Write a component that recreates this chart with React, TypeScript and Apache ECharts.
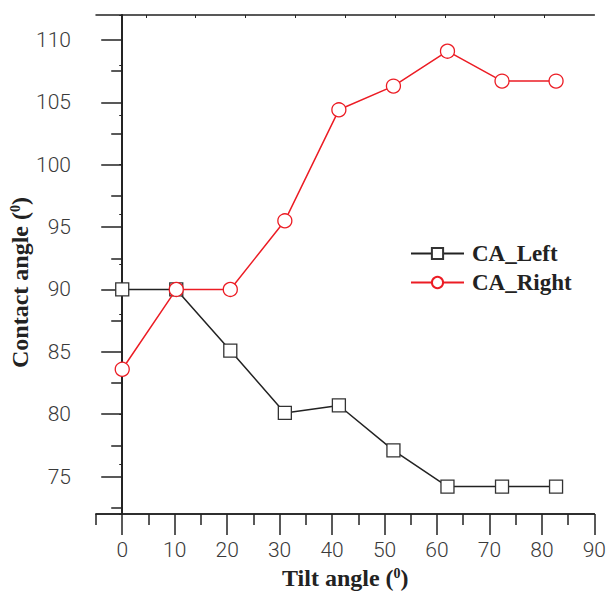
import React, { useEffect, useRef } from "react";
import * as echarts from "echarts";

const tiltAngles = [0, 10.3, 20.6, 31, 41.3, 51.7, 62, 72.4, 82.7];
const caLeft = [90, 90, 85.1, 80.1, 80.7, 77.1, 74.2, 74.2, 74.2];
const caRight = [83.6, 90, 90, 95.5, 104.4, 106.3, 109.1, 106.7, 106.7];

const xMajorTicks = [0, 10, 20, 30, 40, 50, 60, 70, 80, 90];
const xMinorTicks = [-5, 5, 15, 25, 35, 45, 55, 65, 75, 85];
const xTopTicks = [4.5, 14, 23.5, 33, 42.5, 52, 61.5, 71, 80.5];
const yMajorTicks = [75, 80, 85, 90, 95, 100, 105, 110];
const yMinorTicks = [72.5, 77.5, 82.5, 87.5, 92.5, 97.5, 102.5, 107.5];

const AXIS_COLOR = "#222";
const RED = "#ec1c24";
const LABEL_FONT = { fontFamily: "Roboto", fontWeight: 300, fontSize: 21, color: "#3a3a3a" };

export default function App() {
  const ref = useRef<HTMLDivElement>(null);
  useEffect(() => {
    if (!ref.current) return;
    const chart = echarts.init(ref.current, null, { renderer: "svg" });
    const lineStyle = { color: AXIS_COLOR, width: 1.5 };
    const baseX = { type: "value", min: -5, max: 90, splitLine: { show: false } };
    const baseY = { type: "value", min: 72, max: 112, splitLine: { show: false } };
    chart.setOption({
      animation: false,
      backgroundColor: "#fff",
      grid: { left: 96, right: 13, top: 15, bottom: 78, containLabel: false },
      legend: {
        left: 405,
        top: 237,
        orient: "vertical",
        itemWidth: 53,
        itemHeight: 14,
        itemGap: 6,
        data: ["CA_Left", "CA_Right"],
        textStyle: {
          fontFamily: "Liberation Serif",
          fontWeight: "bold",
          fontSize: 23,
          color: "#222",
          padding: [0, 0, 0, 3],
        },
      },
      xAxis: [
        {
          ...baseX,
          position: "bottom",
          axisLine: { show: true, lineStyle },
          axisTick: { show: true, inside: false, length: 21, lineStyle, customValues: xMajorTicks },
          axisLabel: { show: true, margin: 25, customValues: xMajorTicks, ...LABEL_FONT },
        },
        {
          ...baseX,
          position: "bottom",
          axisLine: { show: true, lineStyle },
          axisTick: { show: true, inside: false, length: 11, lineStyle, customValues: xMinorTicks },
          axisLabel: { show: false },
        },
        {
          ...baseX,
          position: "top",
          axisLine: { show: true, lineStyle },
          axisTick: { show: true, inside: true, length: 3, lineStyle: { color: AXIS_COLOR, width: 1 }, customValues: xTopTicks },
          axisLabel: { show: false },
        },
      ],
      yAxis: [
        {
          ...baseY,
          position: "left",
          axisLine: { show: true, lineStyle },
          axisTick: { show: true, inside: false, length: 21, lineStyle, customValues: yMajorTicks },
          axisLabel: { show: true, margin: 25, customValues: yMajorTicks, ...LABEL_FONT },
        },
        {
          ...baseY,
          position: "left",
          axisLine: { show: true, lineStyle },
          axisTick: { show: true, inside: false, length: 11, lineStyle, customValues: yMinorTicks },
          axisLabel: { show: false },
        },
        {
          ...baseY,
          position: "right",
          interval: 4,
          axisLine: { show: true, lineStyle },
          axisTick: { show: true, inside: true, length: 3, lineStyle: { color: AXIS_COLOR, width: 1 } },
          axisLabel: { show: false },
        },
      ],
      series: [
        {
          name: "CA_Left",
          type: "line",
          xAxisIndex: 0,
          yAxisIndex: 0,
          data: tiltAngles.map((x, i) => [x, caLeft[i]]),
          symbol: "rect",
          symbolSize: 13,
          lineStyle: { color: "#222", width: 1.5 },
          itemStyle: { color: "#fff", borderColor: "#333", borderWidth: 1.3 },
          z: 3,
        },
        {
          name: "CA_Right",
          type: "line",
          xAxisIndex: 0,
          yAxisIndex: 0,
          data: tiltAngles.map((x, i) => [x, caRight[i]]),
          symbol: "circle",
          symbolSize: 14,
          lineStyle: { color: RED, width: 1.5 },
          itemStyle: { color: "#fff", borderColor: RED, borderWidth: 1.3 },
          z: 4,
        },
      ],
      graphic: [
        {
          type: "text",
          left: 282,
          top: 566,
          style: {
            text: "Tilt angle ({s|0})",
            fontFamily: "Liberation Serif",
            fontWeight: "bold",
            fontSize: 24,
            fill: "#222",
            rich: {
              s: { fontFamily: "Liberation Serif", fontWeight: "bold", fontSize: 14, fill: "#222", padding: [0, 0, 10, 0] },
            },
          },
        },
        {
          type: "text",
          x: 8,
          y: 368,
          rotation: Math.PI / 2,
          style: {
            text: "Contact angle ({s|0})",
            fontFamily: "Liberation Serif",
            fontWeight: "bold",
            fontSize: 24,
            fill: "#222",
            rich: {
              s: { fontFamily: "Liberation Serif", fontWeight: "bold", fontSize: 14, fill: "#222", padding: [0, 0, 10, 0] },
            },
          },
        },
      ],
    });
    return () => chart.dispose();
  }, []);
  return (
    <div
      ref={ref}
      style={{ position: "fixed", left: 0, top: 0, width: 609, height: 592, background: "#fff" }}
    />
  );
}
